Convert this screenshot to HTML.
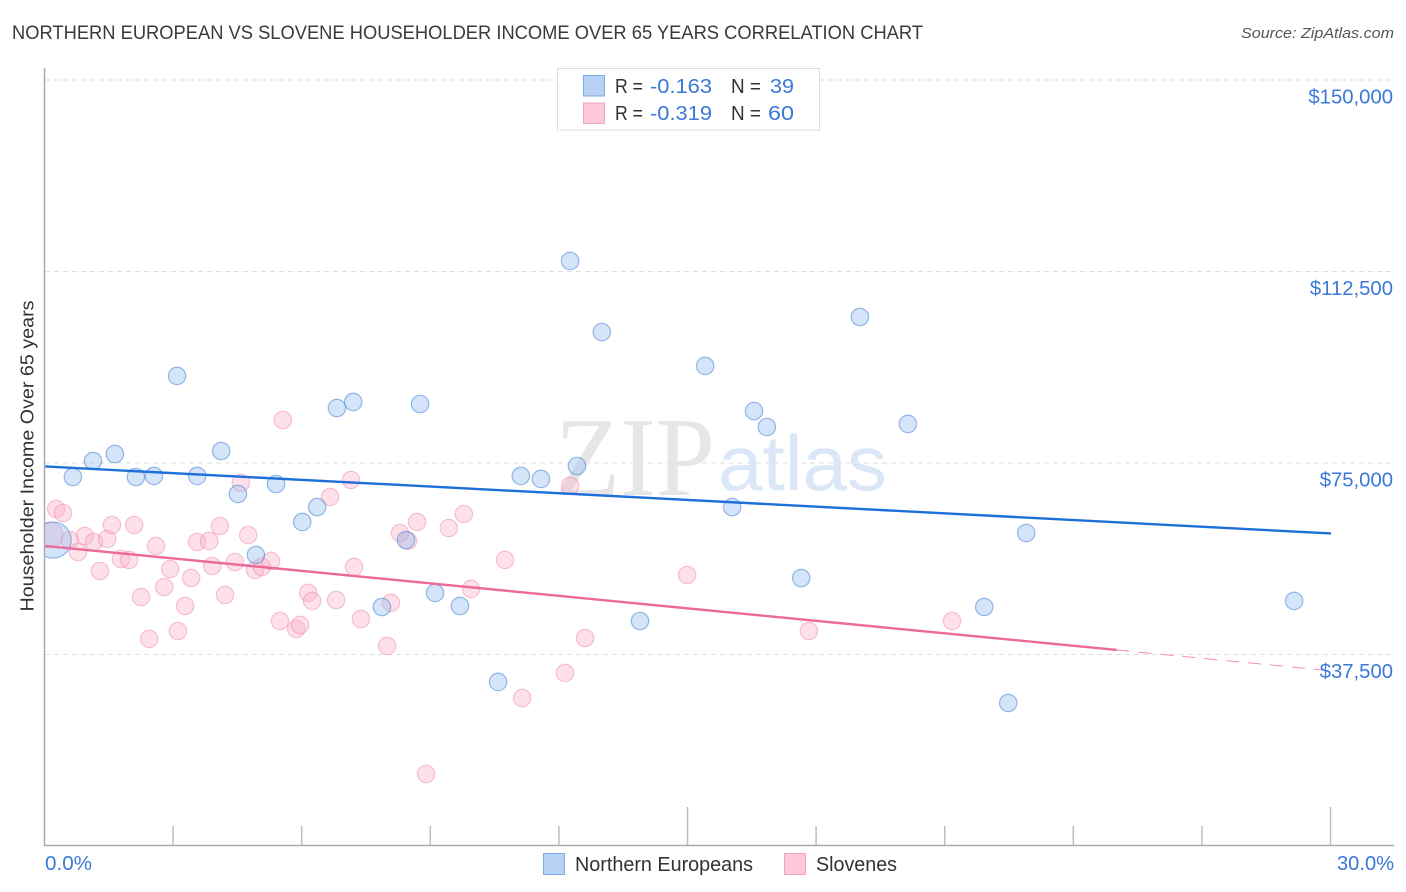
<!DOCTYPE html>
<html lang="en">
<head>
<meta charset="utf-8">
<title>Northern European vs Slovene Householder Income Over 65 Years Correlation Chart</title>
<style>
html,body{margin:0;padding:0;background:#fff;width:1406px;height:892px;overflow:hidden}
svg{display:block}
text{font-family:"Liberation Sans",sans-serif}
</style>
</head>
<body>
<svg id="chart" width="1406" height="892" viewBox="0 0 1406 892" xmlns="http://www.w3.org/2000/svg">
  <defs>
    <clipPath id="plot-clip"><rect x="45" y="60" width="1350" height="786"/></clipPath>
  </defs>
  <text x="12" y="39" font-size="19" fill="#3a3a3a" textLength="911" lengthAdjust="spacingAndGlyphs">NORTHERN EUROPEAN VS SLOVENE HOUSEHOLDER INCOME OVER 65 YEARS CORRELATION CHART</text>
  <text x="1394" y="38" font-size="15" font-style="italic" fill="#555" text-anchor="end" textLength="153" lengthAdjust="spacingAndGlyphs">Source: ZipAtlas.com</text>
  <g id="grid"></g>
  <g>
    <text x="555" y="495" font-size="112" fill="#e6e6e6" textLength="160" lengthAdjust="spacingAndGlyphs" style="font-family:'Liberation Serif',serif">ZIP</text>
    <text x="718" y="490" font-size="78" fill="#dbe7f7" textLength="169" lengthAdjust="spacingAndGlyphs">atlas</text>
  </g>
  <g id="pink-points" clip-path="url(#plot-clip)"></g>
  <g id="blue-points" clip-path="url(#plot-clip)"></g>
  <g id="trends"></g>
  <g id="axes"></g>
  <g id="y-labels"></g>
  <g id="x-labels"></g>
  <text transform="translate(33.5,456) rotate(-90)" font-size="18.5" fill="#333" text-anchor="middle" textLength="311" lengthAdjust="spacingAndGlyphs">Householder Income Over 65 years</text>

  <g>
    <rect x="557.5" y="68.5" width="262" height="61.5" fill="#fff" stroke="#ddd" stroke-width="1"/>
    <rect x="583.5" y="75.5" width="21" height="20.5" fill="#b7d2f5" stroke="#7eaae6" stroke-width="1"/>
    <rect x="583.5" y="103" width="21" height="20.5" fill="#fdc9da" stroke="#f3a3bf" stroke-width="1"/>
    <g font-size="20">
      <text x="615" y="93" fill="#333" textLength="28" lengthAdjust="spacingAndGlyphs">R =</text>
      <text x="650" y="93" fill="#3b78d8" textLength="62" lengthAdjust="spacingAndGlyphs">-0.163</text>
      <text x="731" y="93" fill="#333" textLength="30" lengthAdjust="spacingAndGlyphs">N =</text>
      <text x="770" y="93" fill="#3b78d8" textLength="24" lengthAdjust="spacingAndGlyphs">39</text>
      <text x="615" y="120" fill="#333" textLength="28" lengthAdjust="spacingAndGlyphs">R =</text>
      <text x="650" y="120" fill="#3b78d8" textLength="62" lengthAdjust="spacingAndGlyphs">-0.319</text>
      <text x="731" y="120" fill="#333" textLength="30" lengthAdjust="spacingAndGlyphs">N =</text>
      <text x="768" y="120" fill="#3b78d8" textLength="26" lengthAdjust="spacingAndGlyphs">60</text>
    </g>
  </g>

  <g>
    <g>
      <rect x="543.5" y="853.5" width="21" height="21" fill="#b7d2f5" stroke="#7eaae6" stroke-width="1"/>
      <text x="575" y="871" font-size="20" fill="#333" textLength="178" lengthAdjust="spacingAndGlyphs">Northern Europeans</text>
    </g>
    <g>
      <rect x="784.5" y="853.5" width="21" height="21" fill="#fdc9da" stroke="#f3a3bf" stroke-width="1"/>
      <text x="816" y="871" font-size="20" fill="#333" textLength="81" lengthAdjust="spacingAndGlyphs">Slovenes</text>
    </g>
  </g>
</svg>
<script>
const yTicks = [150000, 112500, 75000, 37500];
const yTickLabels = ["$150,000", "$112,500", "$75,000", "$37,500"];
const xTicks = [0, 3, 6, 9, 12, 15, 18, 21, 24, 27, 30];
const xMajorTicks = [15, 30];
const xEndLabels = ["0.0%", "30.0%"];

const blueShare = [0.19,0.65,1.12,1.63,2.12,2.54,3.08,3.55,4.11,4.50,4.92,5.39,6.00,6.35,6.81,7.19,7.86,8.42,8.75,9.10,9.68,10.57,11.10,11.57,12.25,12.41,12.99,13.88,15.40,16.03,16.54,16.84,17.64,19.01,20.13,21.91,22.47,22.89,29.14];
const blueIncome = [59920,72260,75390,76760,72260,72460,92040,72460,77350,68930,56990,70890,63450,66380,85770,86950,46800,59920,86550,49550,47000,32120,72460,71870,114560,74410,100650,44060,94000,66380,85180,82050,52480,103590,82640,46800,28000,61290,47980];
const pinkShare = [0.12,0.26,0.42,0.58,0.77,0.93,1.14,1.28,1.45,1.56,1.77,1.96,2.08,2.24,2.43,2.59,2.78,2.92,3.10,3.27,3.41,3.55,3.83,3.90,4.08,4.20,4.43,4.57,4.74,4.90,5.06,5.27,5.48,5.55,5.86,5.95,6.14,6.23,6.79,6.65,7.14,7.21,7.37,7.98,8.07,8.28,8.47,8.68,9.42,9.77,9.94,10.73,12.25,12.60,12.13,11.13,8.89,14.98,17.82,21.16];
const pinkIncome = [60900,65990,65210,59920,57570,60710,59530,53850,60120,62860,56200,56010,62860,48760,40540,58750,50720,54240,42100,47000,52480,59530,59730,54830,62660,49150,55610,71090,60900,54050,54640,55810,44060,83420,42500,43280,49550,47980,48170,68340,71670,54640,44450,39170,47590,61290,59730,63450,62270,65010,50330,56010,70500,40730,33880,28980,14100,53070,42100,44060];

// Bubble weight of the first (aggregate) observation in each series; others weigh 1.
const blueFirstWeight = 4.3;
const pinkFirstWeight = 2.2;

// Trend endpoints: income at share 0% and share 30%; pink is solid up to pinkSolidEnd.
const blueTrend = [74320, 61200];
const pinkTrend = [58750, 34310];
const pinkSolidEnd = 25;

const NS = "http://www.w3.org/2000/svg";
const X0 = 45, X1 = 1331, YTOP = 80, YBOT = 654.5;
const xAt = v => X0 + (v / 30) * (X1 - X0);
const yAt = v => YTOP + (150000 - v) * (YBOT - YTOP) / 112500;
const root = id => document.getElementById(id);
function make(tag, attrs, parent) {
  const el = document.createElementNS(NS, tag);
  for (const k in attrs) el.setAttribute(k, attrs[k]);
  parent.appendChild(el);
  return el;
}

yTicks.forEach((t, i) => {
  const line = make("line", {x1: X0, x2: 1393, y1: yAt(t), y2: yAt(t), stroke: "#dedede", "stroke-width": 1, "stroke-dasharray": "5 4"}, root("grid"));
  
  
  const label = make("text", {x: 1393, y: yAt(t) + 23.5, "font-size": 20.3, fill: "#3b78d8", "text-anchor": "end"}, root("y-labels"));
  
  
  label.textContent = yTickLabels[i];
});

const yAxis = make("line", {x1: X0 - 0.5, x2: X0 - 0.5, y1: 68, y2: 846, stroke: "#aaa", "stroke-width": 1.5}, root("axes"));


const xAxis = make("line", {x1: X0 - 0.5, x2: 1394, y1: 845.5, y2: 845.5, stroke: "#aaa", "stroke-width": 1.5}, root("axes"));


xTicks.slice(1).forEach(t => {
  const top = xMajorTicks.includes(t) ? 807 : 826;
  const tick = make("line", {x1: xAt(t) - 0.5, x2: xAt(t) - 0.5, y1: top, y2: 845, stroke: "#bdbdbd", "stroke-width": 1.5}, root("axes"));
  
  
});

const xLabelLeft = make("text", {x: 45, y: 870, "font-size": 20, fill: "#3b78d8", textLength: 47, lengthAdjust: "spacingAndGlyphs"}, root("x-labels"));


xLabelLeft.textContent = xEndLabels[0];
const xLabelRight = make("text", {x: 1337, y: 870, "font-size": 20, fill: "#3b78d8", textLength: 57, lengthAdjust: "spacingAndGlyphs"}, root("x-labels"));


xLabelRight.textContent = xEndLabels[1];

const BASE_R = 8.7;
pinkShare.forEach((s, i) => {
  const r = BASE_R * Math.sqrt(i === 0 ? pinkFirstWeight : 1);
  const c = make("circle", {cx: xAt(s), cy: yAt(pinkIncome[i]), r: r, fill: "rgba(249,178,200,0.40)", stroke: "rgba(236,130,165,0.45)", "stroke-width": 1.2}, root("pink-points"));
  
  
});
blueShare.forEach((s, i) => {
  const r = BASE_R * Math.sqrt(i === 0 ? blueFirstWeight : 1);
  const c = make("circle", {cx: xAt(s), cy: yAt(blueIncome[i]), r: r, fill: "rgba(150,190,240,0.40)", stroke: "rgba(70,130,215,0.55)", "stroke-width": 1.2}, root("blue-points"));
  
  
});

const blueLine = make("line", {x1: xAt(0), y1: yAt(blueTrend[0]), x2: xAt(30), y2: yAt(blueTrend[1]), stroke: "#1f6fd8", "stroke-width": 2.4}, root("trends"));


const pinkAt = s => pinkTrend[0] + (pinkTrend[1] - pinkTrend[0]) * s / 30;
const pinkDash = make("line", {x1: xAt(pinkSolidEnd), y1: yAt(pinkAt(pinkSolidEnd)), x2: xAt(30), y2: yAt(pinkAt(30)), stroke: "#f090b4", "stroke-width": 1, "stroke-dasharray": "13 9"}, root("trends"));


const pinkLine = make("line", {x1: xAt(0), y1: yAt(pinkAt(0)), x2: xAt(pinkSolidEnd), y2: yAt(pinkAt(pinkSolidEnd)), stroke: "#ec6a9a", "stroke-width": 2.4}, root("trends"));


</script>
</body>
</html>
